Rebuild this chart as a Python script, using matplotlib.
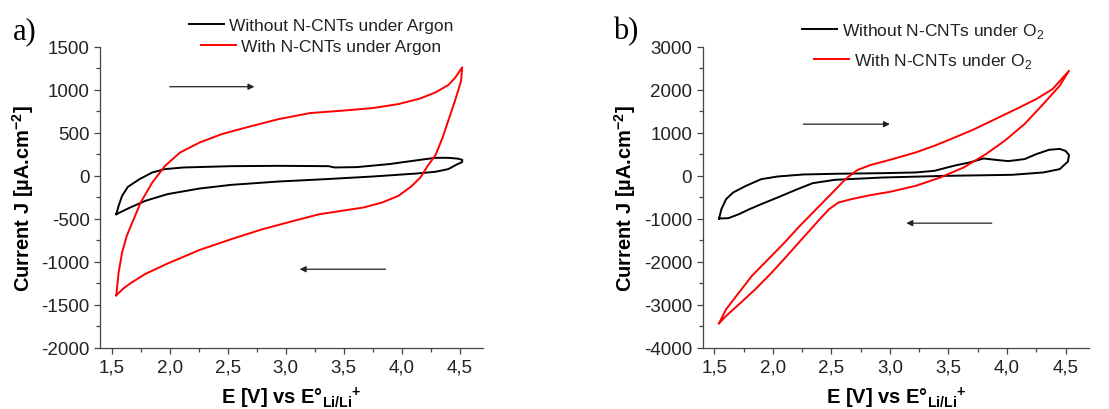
import numpy as np
import matplotlib.pyplot as plt
from matplotlib.ticker import MultipleLocator, FuncFormatter

plt.rcParams['font.family'] = ['Liberation Sans', 'DejaVu Sans']
plt.rcParams['axes.unicode_minus'] = False
plt.rcParams['mathtext.fontset'] = 'custom'
plt.rcParams['mathtext.rm'] = 'Liberation Sans'
plt.rcParams['mathtext.bf'] = 'Liberation Sans:bold'

# panel a) - under argon
a_black_E = [1.54, 1.56, 1.59, 1.64, 1.74, 1.85, 1.96, 2.12, 2.53, 2.94, 3.37, 3.42, 3.61, 3.89,
             4.16, 4.29, 4.40, 4.48, 4.52, 4.52, 4.48, 4.40, 4.29, 4.13, 3.75, 3.34, 2.94, 2.53,
             2.26, 1.98, 1.79, 1.66, 1.54]
a_black_J = [-446, -349, -233, -128, -39, 39, 78, 97, 112, 116, 112, 97, 101, 136,
             186, 209, 209, 200, 186, 160, 136, 78, 47, 27, -8, -39, -66, -105,
             -147, -213, -291, -368, -446]

a_red_E = [1.54, 1.56, 1.59, 1.63, 1.69, 1.75, 1.85, 1.96, 2.09, 2.26, 2.45, 2.66, 2.94, 3.21,
           3.48, 3.75, 3.97, 4.16, 4.29, 4.40, 4.46, 4.52,
           4.51, 4.46, 4.42, 4.35, 4.29, 4.22, 4.16, 4.08, 3.97, 3.83, 3.67, 3.48, 3.29, 3.07,
           2.80, 2.53, 2.26, 1.98, 1.79, 1.66, 1.60, 1.54]
a_red_J = [-1388, -1124, -891, -698, -504, -310, -78, 116, 271, 388, 485, 562, 659, 729,
           756, 787, 833, 899, 969, 1054, 1140, 1260,
           1100, 880, 720, 440, 240, 110, -20, -125, -233, -310, -368, -407, -446, -523,
           -620, -736, -860, -1020, -1140, -1250, -1310, -1388]

# panel b) - under O2
b_black_E = [1.54, 1.56, 1.60, 1.66, 1.77, 1.90, 2.04, 2.26, 2.53, 2.94, 3.22, 3.38, 3.49, 3.57,
             3.68, 3.80, 3.90, 4.01, 4.15, 4.25, 4.36, 4.45, 4.50, 4.53,
             4.52, 4.45, 4.31, 4.04, 3.49, 2.94, 2.53, 2.34, 2.21, 2.04, 1.90, 1.80, 1.71,
             1.62, 1.54]
b_black_J = [-992, -775, -543, -388, -233, -78, -16, 31, 47, 62, 78, 116, 194, 248,
             310, 403, 372, 341, 388, 504, 605, 625, 580, 480,
             330, 155, 78, 23, 0, -39, -93, -171, -310, -504, -659, -775, -891,
             -984, -992]

b_red_E = [1.54, 1.60, 1.71, 1.82, 1.96, 2.10, 2.23, 2.37, 2.51, 2.62, 2.72, 2.83, 3.00, 3.22,
           3.38, 3.52, 3.71, 3.90, 4.09, 4.25, 4.39, 4.53,
           4.45, 4.31, 4.15, 3.98, 3.82, 3.63, 3.43, 3.22, 3.00, 2.83, 2.67, 2.56, 2.48, 2.40,
           2.26, 2.12, 1.99, 1.85, 1.71, 1.60, 1.54]
b_red_J = [-3426, -3101, -2713, -2326, -1938, -1550, -1163, -775, -388, -78, 132, 248, 372, 543,
           698, 853, 1070, 1318, 1566, 1783, 2016, 2442,
           2093, 1667, 1202, 814, 504, 194, -39, -233, -372, -450, -543, -620, -775, -1008,
           -1434, -1860, -2248, -2636, -2985, -3256, -3426]

# scan direction arrows (start E, end E, J)
a_arrows = [(2.00, 2.73, 1035), (3.86, 3.12, -1085)]
b_arrows = [(2.26, 3.00, 1200), (3.87, 3.14, -1100)]

fig = plt.figure(figsize=(11.09, 4.10), dpi=100)
ax_a = fig.add_axes([0.0902, 0.1488, 0.3454, 0.7349])
ax_b = fig.add_axes([0.6336, 0.1488, 0.3483, 0.7349])


def style_axes(ax, ylim, ymajor, yminor):
    ax.set_xlim(1.4, 4.7)
    ax.set_ylim(*ylim)
    ax.spines['top'].set_visible(False)
    ax.spines['right'].set_visible(False)
    for s in ('left', 'bottom'):
        ax.spines[s].set_color('#444444')
        ax.spines[s].set_linewidth(0.9)
    ax.xaxis.set_major_locator(MultipleLocator(0.5))
    ax.xaxis.set_minor_locator(MultipleLocator(0.25))
    ax.yaxis.set_major_locator(MultipleLocator(ymajor))
    ax.yaxis.set_minor_locator(MultipleLocator(yminor))
    ax.xaxis.set_major_formatter(FuncFormatter(lambda v, p: f"{v:.1f}".replace('.', ',')))
    ax.yaxis.set_major_formatter(FuncFormatter(lambda v, p: f"{v:.0f}"))
    ax.tick_params(which='major', direction='out', length=4.5, width=0.9, color='#444444',
                   labelsize=13.5, pad=3, labelcolor='#222222')
    ax.tick_params(which='minor', direction='out', length=3, width=0.9, color='#444444')
    ax.set_xlabel(r"E [V] vs E°$_{\mathbf{Li/Li}}$$^{\mathbf{+}}$", fontsize=14.5,
                  fontweight='bold', labelpad=7)
    ax.set_ylabel(r"Current J [µA.cm$^{\mathbf{-2}}$]", fontsize=14.5,
                  fontweight='bold', labelpad=4)


def draw_arrows(ax, arrows):
    for x0, x1, y in arrows:
        ax.annotate('', xy=(x1, y), xytext=(x0, y),
                    arrowprops=dict(arrowstyle='-|>', color='#222222', lw=0.9,
                                    mutation_scale=9, shrinkA=0, shrinkB=0))


def center_legend(ax, anchor, spacing):
    leg = ax.legend(loc='center', bbox_to_anchor=anchor, bbox_transform=fig.transFigure,
                    frameon=False, fontsize=12.5, handlelength=2.0, handletextpad=0.3,
                    labelspacing=spacing, borderpad=0)
    for col in leg._legend_handle_box.get_children():
        col.align = 'center'
    for t in leg.get_texts():
        t.set_color('#222222')
    return leg


style_axes(ax_a, (-2000, 1500), 500, 250)
ax_a.plot(a_black_E, a_black_J, color='black', lw=1.4, label='Without N-CNTs under Argon')
ax_a.plot(a_red_E, a_red_J, color='red', lw=1.4, label='With N-CNTs under Argon')
draw_arrows(ax_a, a_arrows)
center_legend(ax_a, (0.2895, 0.9098), 0.35)

style_axes(ax_b, (-4000, 3000), 1000, 500)
ax_b.plot(b_black_E, b_black_J, color='black', lw=1.4, label='Without N-CNTs under O$_2$')
ax_b.plot(b_red_E, b_red_J, color='red', lw=1.4, label='With N-CNTs under O$_2$')
draw_arrows(ax_b, b_arrows)
center_legend(ax_b, (0.8323, 0.8866), 0.6)

fig.text(0.012, 0.905, 'a)', fontsize=22, family='Liberation Serif')
fig.text(0.553, 0.905, 'b)', fontsize=22, family='Liberation Serif')

fig.savefig('out.png', dpi=100)
